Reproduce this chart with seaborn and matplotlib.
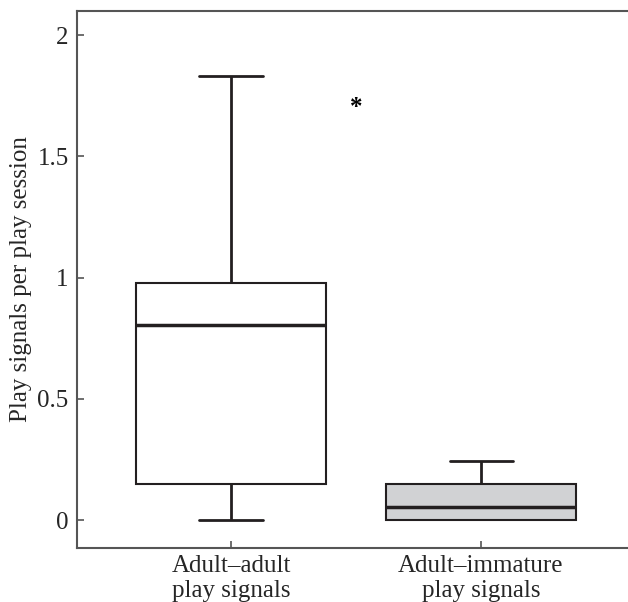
import matplotlib
matplotlib.use("Agg")
import matplotlib.pyplot as plt
import seaborn as sns
import pandas as pd

# Data (five-number summaries: min, Q1, median, Q3, max)
categories = ["Adult\u2013adult\nplay signals", "Adult\u2013immature\nplay signals"]
adult_adult = [0.0, 0.15, 0.805, 0.977, 1.83]
adult_immature = [0.0, 0.0, 0.054, 0.148, 0.245]
box_colors = ["#ffffff", "#d1d2d4"]
yticks = [0, 0.5, 1, 1.5, 2]
ytick_labels = ["0", "0.5", "1", "1.5", "2"]
star_x, star_y = 0.5, 1.70

df = pd.DataFrame({
    "group": [categories[0]] * len(adult_adult) + [categories[1]] * len(adult_immature),
    "value": adult_adult + adult_immature,
})

sns.set_style("white")
plt.rcParams["font.family"] = ["Liberation Serif", "DejaVu Serif"]

fig = plt.figure(figsize=(6.28, 6.02), dpi=100)
ax = fig.add_axes([77 / 628, 1 - 548 / 602, 1 - 77 / 628, (548 - 11) / 602])

line_c = "#231f20"
sns.boxplot(
    data=df, x="group", y="value", hue="group", palette=box_colors,
    order=categories, hue_order=categories, legend=False,
    width=0.756, whis=1.5, linecolor=line_c, linewidth=1.5,
    capwidths=0.252, showfliers=False, ax=ax,
    medianprops=dict(linewidth=2.5, color=line_c),
    whiskerprops=dict(linewidth=2, color=line_c),
    capprops=dict(linewidth=2, color=line_c),
)

# hide zero-length whisker/cap where the minimum equals the lower quartile
for ln in ax.lines:
    y = ln.get_ydata()
    x = ln.get_xdata()
    if len(y) == 2 and all(v == 0 for v in y) and min(x) > 0.5:
        ln.set_visible(False)

ax.text(star_x, star_y, "*", ha="center", va="center", fontsize=18,
        fontweight="bold", color="black")

ax.set_xlim(-0.616, 1.588)
ax.set_ylim(-0.115, 2.1)
ax.set_yticks(yticks)
ax.set_yticklabels(ytick_labels)
ax.set_xlabel("")
ax.set_ylabel("Play signals per play session", fontsize=18, labelpad=4)
ax.tick_params(axis="both", direction="in", length=5, width=1.2, color="#555555",
               labelsize=18, pad=6, left=True, bottom=True)
ax.tick_params(axis="x", pad=5)
for lbl in ax.get_xticklabels():
    lbl.set_linespacing(1.2)
ax.spines["right"].set_visible(False)
for side in ["left", "bottom", "top"]:
    ax.spines[side].set_color("#555555")
    ax.spines[side].set_linewidth(1.5)

fig.savefig("out.png", dpi=100)
